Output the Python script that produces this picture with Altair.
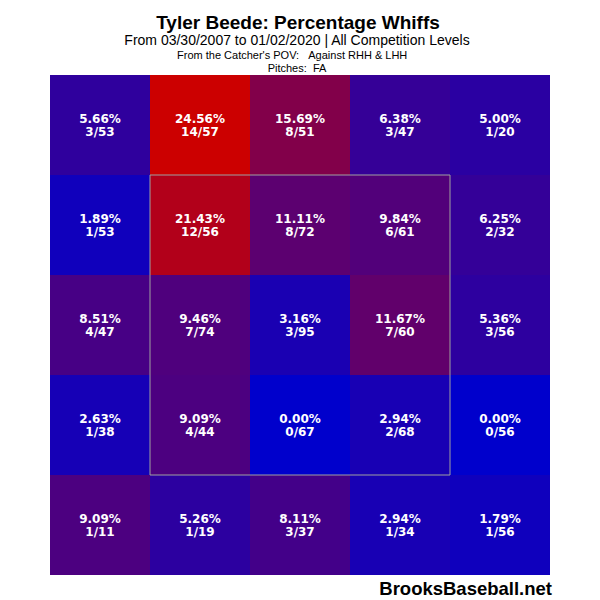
import altair as alt
import pandas as pd

# Grid values (rows top->bottom, columns left->right, catcher's POV)
pct_rows = [
    [5.66, 24.56, 15.69, 6.38, 5.00],
    [1.89, 21.43, 11.11, 9.84, 6.25],
    [8.51, 9.46, 3.16, 11.67, 5.36],
    [2.63, 9.09, 0.00, 2.94, 0.00],
    [9.09, 5.26, 8.11, 2.94, 1.79],
]
count_rows = [
    ["3/53", "14/57", "8/51", "3/47", "1/20"],
    ["1/53", "12/56", "8/72", "6/61", "2/32"],
    ["4/47", "7/74", "3/95", "7/60", "3/56"],
    ["1/38", "4/44", "0/67", "2/68", "0/56"],
    ["1/11", "1/19", "3/37", "1/34", "1/56"],
]
zone_lo = [1]
zone_hi = [4]

title = "Tyler Beede: Percentage Whiffs"
line2 = "From 03/30/2007 to 01/02/2020 | All Competition Levels"
line3 = "From the Catcher's POV:\u00a0\u00a0\u00a0Against RHH & LHH"
line4 = "Pitches:\u00a0\u00a0FA"
brand = "BrooksBaseball.net"

rows = []
for r in range(5):
    for c in range(5):
        rows.append({
            "col": c, "col2": c + 1, "row": r, "row2": r + 1,
            "pct": pct_rows[r][c],
            "label": f"{pct_rows[r][c]:.2f}%",
            "count": count_rows[r][c],
        })
df = pd.DataFrame(rows)
zone = pd.DataFrame({"lo": zone_lo, "hi": zone_hi})

xs = alt.Scale(domain=[0, 5], nice=False, zero=False)
ys = alt.Scale(domain=[0, 5], nice=False, zero=False, reverse=True)

base = alt.Chart(df)

cells = base.mark_rect(strokeWidth=0).encode(
    x=alt.X("col:Q", scale=xs, axis=None),
    x2="col2:Q",
    y=alt.Y("row:Q", scale=ys, axis=None),
    y2="row2:Q",
    color=alt.Color(
        "pct:Q",
        scale=alt.Scale(domain=[0, 24.56], range=["#0000cc", "#cc0000"], interpolate="rgb"),
        legend=None,
    ),
)

txt_common = dict(font="DejaVu Sans", fontWeight="bold", fontSize=12, color="white", align="center", baseline="alphabetic")
pct_text = base.transform_calculate(xc="datum.col + 0.5", yc="datum.row + 0.5").mark_text(dy=-2, **txt_common).encode(
    x=alt.X("xc:Q", scale=xs, axis=None),
    y=alt.Y("yc:Q", scale=ys, axis=None),
    text="label:N",
)
cnt_text = base.transform_calculate(xc="datum.col + 0.5", yc="datum.row + 0.5").mark_text(dy=11, **txt_common).encode(
    x=alt.X("xc:Q", scale=xs, axis=None),
    y=alt.Y("yc:Q", scale=ys, axis=None),
    text="count:N",
)

zone_rect = alt.Chart(zone).mark_rect(fillOpacity=0, stroke="#a0a0a0", strokeWidth=1).encode(
    x=alt.X("lo:Q", scale=xs, axis=None),
    x2="hi:Q",
    y=alt.Y("lo:Q", scale=ys, axis=None),
    y2="hi:Q",
)

def label(text, x, y, size, weight="normal", align="center"):
    return alt.Chart(pd.DataFrame({"t": [text]})).mark_text(
        font="Liberation Sans", fontSize=size, fontWeight=weight, color="black",
        align=align, baseline="alphabetic",
    ).encode(x=alt.value(x), y=alt.value(y), text="t:N")

chart = alt.layer(
    cells, zone_rect, pct_text, cnt_text,
    label(title, 248, -46, 19, "bold"),
    label(line2, 247, -30, 14),
    label(line3, 127, -16, 11, align="left"),
    label(line4, 247, -3, 11),
    label(brand, 502, 520, 18.5, "bold", align="right"),
).properties(
    width=500, height=500,
    autosize=alt.AutoSizeParams(type="none"),
    padding={"left": 42, "top": 67, "right": 42, "bottom": 25},
    background="white",
).configure_view(stroke=None)

chart.save("out.html", embed_options={"renderer": "svg", "actions": False})
